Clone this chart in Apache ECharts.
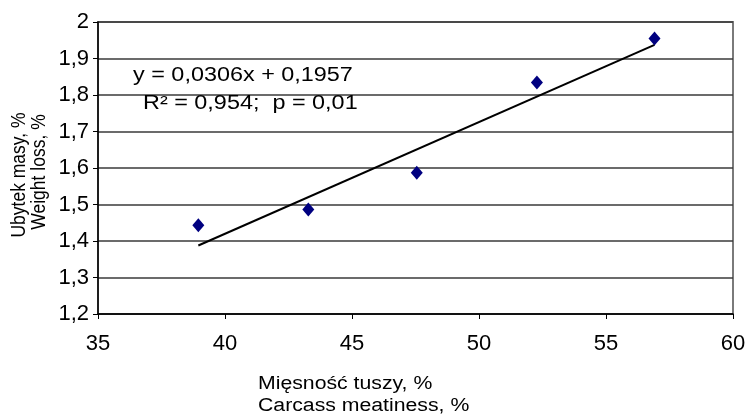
<!DOCTYPE html>
<html>
<head>
<meta charset="utf-8">
<script src="https://cdn.jsdelivr.net/npm/echarts@6/dist/echarts.min.js"></script>
<style>
html,body{margin:0;padding:0;background:#fff;}
#c{width:749px;height:416px;}
</style>
</head>
<body>
<div id="c"></div>
<script>
// Data
const meatiness = [38.95, 43.28, 47.55, 52.28, 56.91];   // Mięsność tuszy, %
const weightLoss = [1.443, 1.486, 1.587, 1.834, 1.955];  // Ubytek masy, %
const slope = 0.0306;
const intercept = 0.1957;
const equationText = 'y = 0,0306x + 0,1957';
const statsText = 'R² = 0,954;  p = 0,01';
const xName = ['Mięsność tuszy, %', 'Carcass meatiness, %'];
const yName = ['Ubytek masy, %', 'Weight loss, %'];

const points = meatiness.map((x, i) => [x, weightLoss[i]]);
const xMin = Math.min(...meatiness), xMax = Math.max(...meatiness);
const trend = [[xMin, slope * xMin + intercept], [xMax, slope * xMax + intercept]];

const FONT = '"Liberation Sans", Arial, sans-serif';
const fmt = v => String(Number(v.toFixed(1))).replace('.', ',');

const chart = echarts.init(document.getElementById('c'), null, {renderer: 'canvas'});
chart.setOption({
  animation: false,
  backgroundColor: '#fff',
  grid: {left: 98, right: 16, top: 22, bottom: 102, show: true, borderColor: '#7a7a7a', borderWidth: 2, backgroundColor: 'transparent'},
  xAxis: {
    type: 'value', min: 35, max: 60, interval: 5,
    axisLine: {show: true, lineStyle: {color: '#000', width: 1.5}},
    axisTick: {show: true, length: 5, lineStyle: {color: '#000'}},
    axisLabel: {color: '#000', fontSize: 22, fontFamily: FONT, margin: 19},
    splitLine: {show: false}
  },
  yAxis: {
    type: 'value', min: 1.2, max: 2, interval: 0.1,
    axisLine: {show: true, lineStyle: {color: '#000', width: 1.5}},
    axisTick: {show: true, length: 5, lineStyle: {color: '#000'}},
    axisLabel: {color: '#000', fontSize: 22, fontFamily: FONT, margin: 9, formatter: fmt},
    splitLine: {show: true, lineStyle: {color: '#3a3a3a', width: 1.5}}
  },
  series: [
    {
      type: 'line', data: trend, symbol: 'none', silent: true,
      lineStyle: {color: '#000', width: 2}, z: 3
    },
    {
      type: 'scatter', data: points, symbol: 'diamond', symbolSize: [12, 14],
      itemStyle: {color: '#000080', opacity: 1}, z: 4
    }
  ],
  graphic: [
    {type: 'text', x: 133, y: 86, scaleX: 1.2, z: 10,
     style: {text: equationText, font: '19.5px ' + FONT, fill: '#000', textVerticalAlign: 'bottom', textBaseline: 'bottom'}},
    {type: 'text', x: 143, y: 114, scaleX: 1.2, z: 10,
     style: {text: statsText, font: '19.5px ' + FONT, fill: '#000', textVerticalAlign: 'bottom', textBaseline: 'bottom'}},
    {type: 'text', x: 258, y: 384, scaleX: 1.18, z: 10,
     style: {text: xName[0], font: '18px ' + FONT, fill: '#000', textVerticalAlign: 'middle', textBaseline: 'middle'}},
    {type: 'text', x: 258, y: 406, scaleX: 1.18, z: 10,
     style: {text: xName[1], font: '18px ' + FONT, fill: '#000', textVerticalAlign: 'middle', textBaseline: 'middle'}},
    {type: 'text', x: 19, y: 175, rotation: Math.PI / 2, scaleY: 1.15, z: 10,
     style: {text: yName[0], font: '17.5px ' + FONT, fill: '#000', textAlign: 'center', textVerticalAlign: 'middle', textBaseline: 'middle'}},
    {type: 'text', x: 39, y: 172, rotation: Math.PI / 2, scaleY: 1.15, z: 10,
     style: {text: yName[1], font: '17.5px ' + FONT, fill: '#000', textAlign: 'center', textVerticalAlign: 'middle', textBaseline: 'middle'}}
  ]
});
</script>
</body>
</html>
